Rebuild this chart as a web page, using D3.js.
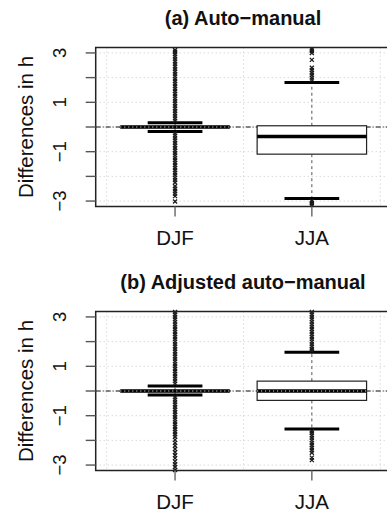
<!DOCTYPE html>
<html>
<head>
<meta charset="utf-8">
<script src="https://cdn.jsdelivr.net/npm/d3@7"></script>
<style>
  html, body { margin: 0; padding: 0; background: #fff; }
  svg { display: block; font-family: "Liberation Sans", Arial, sans-serif; }
</style>
</head>
<body>
<div class="boxChart"></div>
<script>
// categories and axis ticks
const seasons = ["DJF", "JJA"];
const yTicks = [-3, -2, -1, 0, 1, 2, 3];
const yTickLabels = ["\u22123", "", "\u22121", "", "1", "", "3"];
const panelTitles = ["(a) Auto\u2212manual", "(b) Adjusted auto\u2212manual"];

// box stats per season: [lower whisker, q1, median, q3, upper whisker]
const statsA = [[-0.18, -0.02, 0, 0.02, 0.17], [-2.9, -1.1, -0.38, 0.05, 1.8]];
const statsB = [[-0.16, -0.02, 0, 0.02, 0.2], [-1.54, -0.38, 0, 0.4, 1.57]];

// outliers
const djfOutA = [3.12, 3.05, 2.95, 2.85, 2.75, 2.65, 2.55, 2.45, 2.35, 2.25, 2.15, 2.05, 1.95, 1.85, 1.75,
  1.65, 1.55, 1.45, 1.35, 1.25, 1.15, 1.05, 0.95, 0.85, 0.75, 0.65, 0.55, 0.45, 0.35, 0.25,
  -0.25, -0.35, -0.45, -0.55, -0.65, -0.75, -0.85, -0.95, -1.05, -1.15, -1.25, -1.35, -1.45, -1.55,
  -1.65, -1.75, -1.85, -1.95, -2.05, -2.15, -2.25, -2.4, -2.5, -2.6, -2.7, -2.8, -3.02];
const jjaOutA = [3.15, 3.08, 3.0, 2.72, 2.4, 2.3, 2.2, 2.1, 2.0, 1.92, -3.0, -3.08, -3.15];
const djfOutB = [3.2, 3.1, 3.0, 2.9, 2.8, 2.7, 2.6, 2.5, 2.4, 2.3, 2.2, 2.1, 2.0, 1.9, 1.8, 1.7, 1.6,
  1.5, 1.4, 1.3, 1.2, 1.1, 1.0, 0.9, 0.8, 0.7, 0.6, 0.5, 0.4, 0.3,
  -0.25, -0.35, -0.45, -0.55, -0.65, -0.75, -0.85, -0.95, -1.05, -1.15, -1.25, -1.35, -1.45, -1.55,
  -1.65, -1.75, -1.85, -1.98, -2.1, -2.22, -2.35, -2.48, -2.6, -2.72, -2.85, -2.97, -3.08, -3.2];
const jjaOutB = [3.2, 3.1, 3.0, 2.9, 2.8, 2.7, 2.6, 2.5, 2.4, 2.3, 2.2, 2.1, 2.0, 1.9, 1.8, 1.7, 1.63,
  -1.62, -1.7, -1.8, -1.9, -2.0, -2.1, -2.2, -2.3, -2.4, -2.5, -2.7, -2.8];

const panels = [
  { title: panelTitles[0], stats: statsA, outliers: [djfOutA, jjaOutA], dy: 0 },
  { title: panelTitles[1], stats: statsB, outliers: [djfOutB, jjaOutB], dy: 264 }
];

const W = 387, H = 514;
const svg = d3.select(".boxChart").append("svg").attr("width", W).attr("height", H);

/* draw one boxplot panel, shifted down by dy */
const drawPanel = (p) => {
  const top = 47.5 + p.dy, bottom = 206.5 + p.dy, left = 95.7, right = 391.2;
  const x = d3.scaleLinear().domain([0.42, 2.58]).range([left, right]);
  const y = d3.scaleLinear().domain([-3.22, 3.22]).range([bottom, top]);
  const g = svg.append("g");

  // dotted grid
  g.selectAll(".hgrid").data(yTicks).enter().append("line")
    .attr("x1", left).attr("x2", right)
    .attr("y1", (d) => y(d)).attr("y2", (d) => y(d))
    .attr("stroke", "#c8c8c8").attr("stroke-dasharray", "1,3");
  g.selectAll(".vgrid").data([0.5, 1.5, 2.5]).enter().append("line")
    .attr("x1", (d) => x(d)).attr("x2", (d) => x(d))
    .attr("y1", top).attr("y2", bottom)
    .attr("stroke", "#c8c8c8").attr("stroke-dasharray", "1,3");

  // zero reference line
  g.append("line").attr("x1", left).attr("x2", right)
    .attr("y1", y(0)).attr("y2", y(0))
    .attr("stroke", "#111").attr("stroke-dasharray", "5,2,1,2");

  seasons.forEach((s, i) => {
    const cx = x(i + 1);
    const [lo, q1, med, q3, hi] = p.stats[i];
    const bw = x(1.4) - x(1), cw = x(1.2) - x(1);
    // whiskers
    g.append("line").attr("x1", cx).attr("x2", cx).attr("y1", y(q3)).attr("y2", y(hi))
      .attr("stroke", "#555").attr("stroke-dasharray", "3,3");
    g.append("line").attr("x1", cx).attr("x2", cx).attr("y1", y(q1)).attr("y2", y(lo))
      .attr("stroke", "#555").attr("stroke-dasharray", "3,3");
    // box
    g.append("rect").attr("x", cx - bw).attr("width", 2 * bw)
      .attr("y", y(q3)).attr("height", Math.max(y(q1) - y(q3), 0.5))
      .attr("fill", "#fff").attr("stroke", "#222").attr("stroke-width", 1.2);
    g.append("line").attr("x1", cx - bw).attr("x2", cx + bw).attr("y1", y(med)).attr("y2", y(med))
      .attr("stroke", "#000").attr("stroke-width", 3.5);
    // caps
    [lo, hi].forEach((v) => {
      g.append("line").attr("x1", cx - cw).attr("x2", cx + cw).attr("y1", y(v)).attr("y2", y(v))
        .attr("stroke", "#000").attr("stroke-width", 3);
    });
    // outliers as small crosses
    const r = 2;
    g.selectAll(".out" + i).data(p.outliers[i]).enter().append("path")
      .attr("d", (d) => `M${cx - r},${y(d) - r}L${cx + r},${y(d) + r}M${cx - r},${y(d) + r}L${cx + r},${y(d) - r}`)
      .attr("stroke", "#1a1a1a").attr("stroke-width", 1.3).attr("fill", "none");
    // white dots across the median at zero
    if (med === 0) {
      g.append("line").attr("x1", cx - bw).attr("x2", cx + bw).attr("y1", y(0)).attr("y2", y(0))
        .attr("stroke", "#fff").attr("stroke-width", 1).attr("stroke-dasharray", "1,3");
    }
  });

  // frame
  g.append("rect").attr("x", left).attr("y", top).attr("width", right - left).attr("height", bottom - top)
    .attr("fill", "none").attr("stroke", "#222").attr("stroke-width", 1.5);

  // y axis ticks + labels
  g.selectAll(".ytick").data(yTicks).enter().append("line")
    .attr("x1", left - 10).attr("x2", left)
    .attr("y1", (d) => y(d)).attr("y2", (d) => y(d))
    .attr("stroke", "#555").attr("stroke-width", 1.4);
  g.selectAll(".ylab").data(yTicks).enter().append("text")
    .attr("transform", (d) => `translate(66,${y(d)}) rotate(-90)`)
    .attr("text-anchor", "middle").attr("font-size", 18.5).attr("fill", "#111")
    .text((d, k) => yTickLabels[k]);

  // x axis ticks + labels
  seasons.forEach((s, i) => {
    g.append("line").attr("x1", x(i + 1)).attr("x2", x(i + 1)).attr("y1", bottom).attr("y2", bottom + 10)
      .attr("stroke", "#666").attr("stroke-width", 1.4);
    g.append("text").attr("x", x(i + 1)).attr("y", 245 + p.dy)
      .attr("text-anchor", "middle").attr("font-size", 20.5).attr("fill", "#111").text(s);
  });

  // y axis title
  g.append("text").attr("transform", `translate(33,${(top + bottom) / 2}) rotate(-90)`)
    .attr("text-anchor", "middle").attr("font-size", 20.5).attr("fill", "#111").text("Differences in h");

  // panel title
  g.append("text").attr("x", 243).attr("y", 25 + p.dy)
    .attr("text-anchor", "middle").attr("font-size", 20).attr("font-weight", "bold").attr("fill", "#111")
    .text(p.title);
};

panels.forEach(drawPanel);
</script>
</body>
</html>
